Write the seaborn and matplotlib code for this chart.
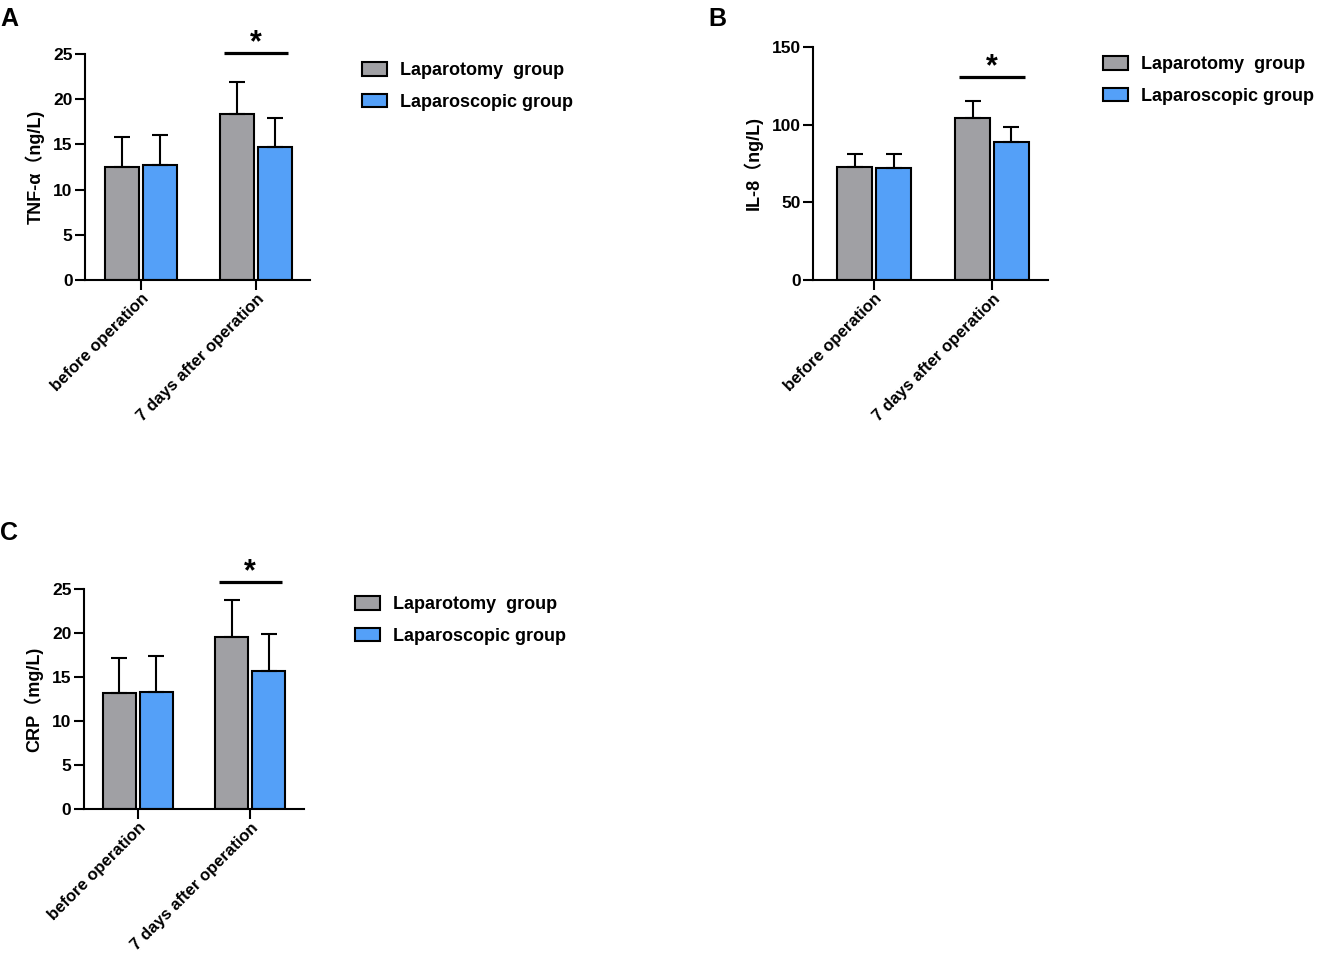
import numpy as np
import pandas as pd
import matplotlib
matplotlib.use("Agg")
import matplotlib.pyplot as plt
import matplotlib.patches as mpatches
import seaborn as sns

# ---- data (mean and SD) ----
categories = ["before operation", "7 days after operation"]
groups = ["Laparotomy  group", "Laparoscopic group"]

tnf_mean_lapt = [12.5, 18.4]
tnf_mean_lapsc = [12.7, 14.7]
tnf_sd_lapt = [3.3, 3.5]
tnf_sd_lapsc = [3.3, 3.25]

il8_mean_lapt = [72.5, 104.5]
il8_mean_lapsc = [72.3, 88.8]
il8_sd_lapt = [8.9, 10.7]
il8_sd_lapsc = [8.5, 9.6]

crp_mean_lapt = [13.2, 19.55]
crp_mean_lapsc = [13.35, 15.7]
crp_sd_lapt = [3.95, 4.2]
crp_sd_lapsc = [4.0, 4.15]

GRAY = "#a0a0a4"
BLUE = "#54a0f8"
W, H = 1323, 955

sns.set_style("ticks")
plt.rcParams["font.family"] = ["Liberation Sans", "Noto Sans CJK SC", "DejaVu Sans"]
plt.rcParams["font.weight"] = "bold"
plt.rcParams["axes.linewidth"] = 1.5
for key in ["text.color", "axes.labelcolor", "xtick.color", "ytick.color", "axes.edgecolor"]:
    plt.rcParams[key] = "black"


def px_axes(fig, left, right, top, bottom):
    return fig.add_axes([left / W, (H - bottom) / H, (right - left) / W, (bottom - top) / H])


def bar_panel(ax, mean_a, mean_b, sd_a, sd_b, ylabel, ymax, ystep, xlim, sig_y):
    df = pd.DataFrame({
        "time": categories * 2,
        "group": [groups[0]] * 2 + [groups[1]] * 2,
        "value": mean_a + mean_b,
    })
    sns.barplot(data=df, x="time", y="value", hue="group", order=categories,
                hue_order=groups, palette=[GRAY, BLUE], width=0.66, gap=0.1,
                errorbar=None, edgecolor="black", linewidth=1.5, saturation=1,
                legend=False, ax=ax)

    # upper-only SD error bars
    for cont, sds in zip(ax.containers, [sd_a, sd_b]):
        for bar, sd in zip(cont, sds):
            xc = bar.get_x() + bar.get_width() / 2
            ax.errorbar(xc, bar.get_height(), yerr=[[0], [sd]], fmt="none",
                        ecolor="black", elinewidth=1.5, capsize=6, capthick=1.5,
                        zorder=1)

    ax.set_ylim(0, ymax)
    ax.set_yticks(np.arange(0, ymax + 1, ystep))
    ax.set_xlim(*xlim)
    ax.set_xlabel("")
    ax.set_ylabel(ylabel, fontsize=13, fontweight="bold", labelpad=6)
    ax.tick_params(axis="both", width=1.5, length=7, labelsize=12.5, pad=2)
    ax.tick_params(axis="x", pad=1)
    ax.set_xticks(range(len(categories)))
    ax.set_xticklabels(categories, rotation=45, ha="right", rotation_mode="anchor",
                       fontsize=12, fontweight="bold")
    for lab in ax.get_yticklabels():
        lab.set_fontweight("bold")
    sns.despine(ax=ax)

    # significance marker
    ax.plot([1 - 0.28, 1 + 0.28], [sig_y, sig_y], color="black", lw=2.3,
            clip_on=False, solid_capstyle="butt")
    ax.annotate("*", xy=(1, sig_y), xytext=(0, 7), textcoords="offset points",
                ha="center", va="center", fontsize=22, fontweight="bold",
                annotation_clip=False)


def add_legend(fig, x, y):
    handles = [mpatches.Patch(facecolor=c, edgecolor="black", linewidth=1.5, label=g)
               for c, g in zip([GRAY, BLUE], groups)]
    fig.legend(handles=handles, loc="upper left", bbox_to_anchor=(x / W, (H - y) / H),
               frameon=False, prop={"weight": "bold", "size": 13},
               handlelength=1.4, handleheight=0.8, handletextpad=0.7,
               labelspacing=0.8, borderpad=0, borderaxespad=0)


fig = plt.figure(figsize=(W / 100, H / 100), dpi=100)

axA = px_axes(fig, 85, 310, 54, 280)
bar_panel(axA, tnf_mean_lapt, tnf_mean_lapsc, tnf_sd_lapt, tnf_sd_lapsc,
          "TNF-α（ng/L)", 25, 5, (-0.49, 1.47), 25.1)
add_legend(fig, 362, 62)

axB = px_axes(fig, 813, 1048, 47, 280)
bar_panel(axB, il8_mean_lapt, il8_mean_lapsc, il8_sd_lapt, il8_sd_lapsc,
          "IL-8（ng/L)", 150, 50, (-0.52, 1.475), 131)
add_legend(fig, 1103, 56)

axC = px_axes(fig, 84, 304, 589, 809)
bar_panel(axC, crp_mean_lapt, crp_mean_lapsc, crp_sd_lapt, crp_sd_lapsc,
          "CRP（mg/L)", 25, 5, (-0.48, 1.48), 25.75)
add_legend(fig, 355, 596)

for letter, x, y in [("A", 0, 26), ("B", 708, 26), ("C", 0, 540)]:
    fig.text(x / W, 1 - y / H, letter, fontsize=18, fontweight="bold",
             ha="left", va="baseline")

fig.savefig("out.png", dpi=100)
